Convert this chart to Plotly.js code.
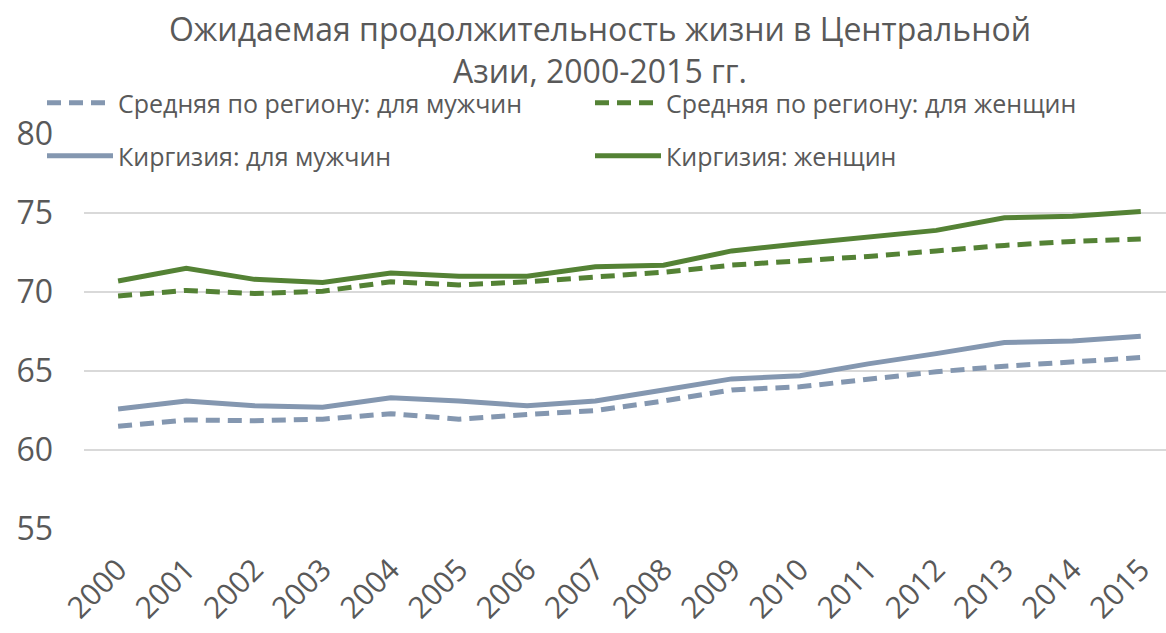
<!DOCTYPE html>
<html>
<head>
<meta charset="utf-8">
<script src="https://cdn.plot.ly/plotly-3.0.1.min.js"></script>
<style>html,body{margin:0;padding:0;background:#fff}#chart{width:1166px;height:633px}</style>
</head>
<body>
<div id="chart"></div>
<script>
const years = ['2000','2001','2002','2003','2004','2005','2006','2007','2008','2009','2010','2011','2012','2013','2014','2015'];
const regionMen   = [61.5, 61.9, 61.85, 61.95, 62.3, 61.95, 62.25, 62.5, 63.1, 63.8, 64.0, 64.5, 64.95, 65.3, 65.6, 65.85];
const regionWomen = [69.75, 70.1, 69.9, 70.05, 70.65, 70.45, 70.65, 70.95, 71.25, 71.7, 71.95, 72.25, 72.6, 72.95, 73.2, 73.35];
const kgMen       = [62.6, 63.1, 62.8, 62.7, 63.3, 63.1, 62.8, 63.1, 63.8, 64.5, 64.7, 65.45, 66.1, 66.8, 66.9, 67.2];
const kgWomen     = [70.7, 71.5, 70.8, 70.6, 71.2, 71.0, 71.0, 71.6, 71.7, 72.6, 73.05, 73.45, 73.9, 74.7, 74.8, 75.1];
const names = ['Средняя по региону: для мужчин','Средняя по региону: для женщин','Киргизия: для мужчин','Киргизия: женщин'];

const blue = '#8497b0', green = '#548235', txt = '#595959';
const FONT = 'Open Sans, Noto Sans, sans-serif';
const DASH = '14px,8px';

const traces = [
  {x: years, y: regionMen, name: names[0], mode: 'lines', line: {color: blue, width: 5, dash: DASH}, legend: 'legend'},
  {x: years, y: regionWomen, name: names[1], mode: 'lines', line: {color: green, width: 5, dash: DASH}, legend: 'legend2'},
  {x: years, y: kgMen, name: names[2], mode: 'lines', line: {color: blue, width: 5}, legend: 'legend3'},
  {x: years, y: kgWomen, name: names[3], mode: 'lines', line: {color: green, width: 5}, legend: 'legend4'}
];

function leg(xpx, ypx) {
  return {
    orientation: 'h', xref: 'container', yref: 'container', xanchor: 'left', yanchor: 'middle',
    x: xpx / 1166, y: 1 - ypx / 633, itemwidth: 66,
    font: {family: FONT, size: 25, color: txt}, bgcolor: 'rgba(0,0,0,0)', itemclick: false
  };
}

const layout = {
  width: 1166, height: 633,
  margin: {l: 84, r: 0, t: 134, b: 104, autoexpand: false},
  paper_bgcolor: '#fff', plot_bgcolor: '#fff',
  font: {family: FONT, color: txt},
  title: {text: 'Ожидаемая продолжительность жизни в Центральной<br>Азии, 2000-2015 гг.', font: {family: FONT, size: 32, color: txt}, xref: 'container', yref: 'container', x: 600/1166, xanchor: 'center', y: 1 - 41/633, yanchor: 'middle'},
  xaxis: {type: 'category', range: [-0.5, 15.37], showgrid: false, showline: false, zeroline: false, ticks: '', tickangle: -45, ticklabelstandoff: 16, tickfont: {family: FONT, size: 30, color: txt}},
  yaxis: {range: [55, 80], dtick: 5, tick0: 55, showgrid: true, gridcolor: '#d9d9d9', gridwidth: 1.5, zeroline: false, showline: false, ticks: '', ticklabelstandoff: 30, tickfont: {family: FONT, size: 32, color: txt}},
  showlegend: true,
  legend: leg(42, 103),
  legend2: leg(590, 103),
  legend3: leg(42, 156),
  legend4: leg(590, 156)
};

Plotly.newPlot('chart', traces, layout, {displayModeBar: false, staticPlot: true});
</script>
</body>
</html>
